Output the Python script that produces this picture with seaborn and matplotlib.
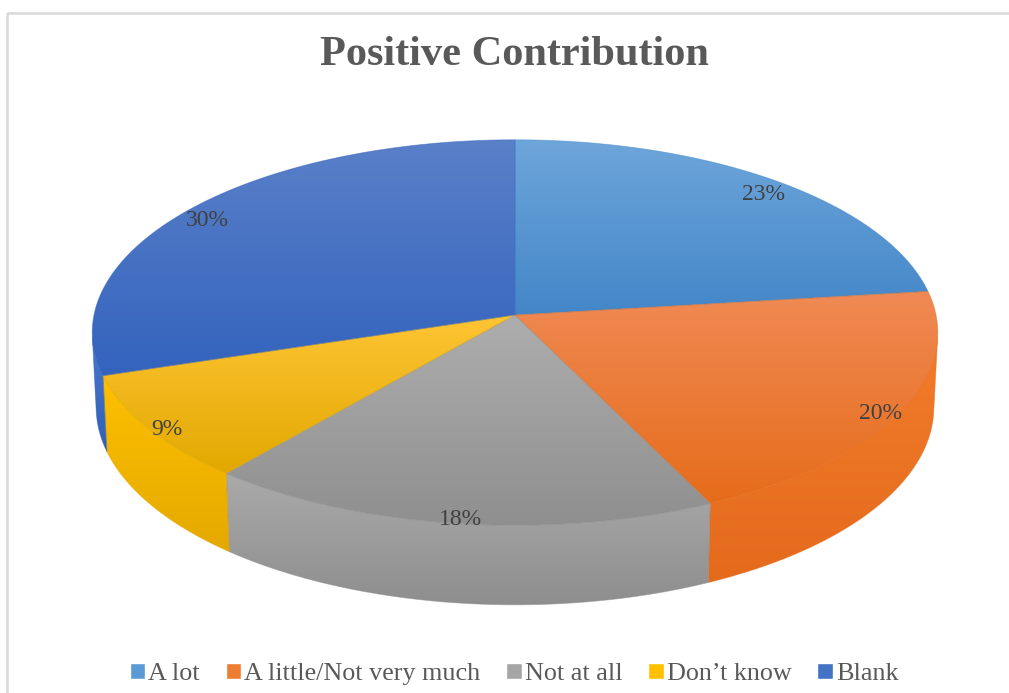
import numpy as np
import matplotlib
matplotlib.use("Agg")
import matplotlib.pyplot as plt
from matplotlib.patches import Polygon, Rectangle
from matplotlib.colors import to_rgb
import seaborn as sns

# ---- data -------------------------------------------------------------
categories = ["A lot", "A little/Not very much", "Not at all", "Don\u2019t know", "Blank"]
percentages = [23, 20, 18, 9, 30]
title = "Positive Contribution"

# light (top) / dark (bottom) shade of each slice
palette = sns.color_palette(["#5B9BD5", "#ED7D31", "#A5A5A5", "#FFC000", "#4472C4"])
top_light = ["#6EA6DA", "#F08A55", "#AEAEAE", "#FFC535", "#5A80C8"]
top_dark = ["#4386C8", "#E66C1A", "#8F8F8F", "#E2A800", "#3363BE"]
side_light = ["#5A9AD6", "#F27C2C", "#AAAAAA", "#FFC000", "#4B78CC"]
side_dark = ["#3F7FC0", "#E46A1C", "#8E8E8E", "#E4A900", "#2F5FB8"]

sns.set_theme(style="white")
plt.rcParams["font.family"] = ["Liberation Serif", "DejaVu Serif"]

W, H = 1009, 693
fig = plt.figure(figsize=(W / 100, H / 100), dpi=100)
ax = fig.add_axes([0, 0, 1, 1])
ax.set_xlim(0, W)
ax.set_ylim(H, 0)
ax.axis("off")

# ---- 3-D projection of a unit-radius disc -----------------------------
cx, cy = 515.0, 315.0           # screen position of pie centre (top face)
elev = np.deg2rad(27.0)
s_e, c_e = np.sin(elev), np.cos(elev)
cam_d = 9.8                      # camera distance (unit radii)
focal = 421.0 * cam_d
thick = 0.20                     # pie thickness


def project(x, y, z):
    x, y, z = np.asarray(x, float), np.asarray(y, float), np.asarray(z, float)
    up = y * s_e + z * c_e
    dist = cam_d + y * c_e - z * s_e
    return cx + x * focal / dist, cy - up * focal / dist


def gradient_fill(poly_xy, c_top, c_bot, zorder):
    poly = Polygon(poly_xy, closed=True, facecolor="none", edgecolor="none")
    ax.add_patch(poly)
    y0, y1 = poly_xy[:, 1].min(), poly_xy[:, 1].max()
    x0, x1 = poly_xy[:, 0].min(), poly_xy[:, 0].max()
    t = np.linspace(0, 1, 256)[:, None]
    ct, cb = np.array(to_rgb(c_top)), np.array(to_rgb(c_bot))
    img = (ct[None, :] * (1 - t) + cb[None, :] * t)[:, None, :]
    img = np.repeat(img, 2, axis=1)
    im = ax.imshow(img, extent=(x0 - 1, x1 + 1, y1 + 1, y0 - 1), aspect="auto",
                   interpolation="bilinear", zorder=zorder)
    im.set_clip_path(poly)
    # thin same-colour outline hides antialiasing seams between slices
    ax.add_patch(Polygon(poly_xy, closed=True, facecolor="none",
                         edgecolor=c_bot, lw=0.6, alpha=0.5, zorder=zorder + 0.01))


fracs = np.array(percentages, float) / sum(percentages)
bounds = np.concatenate([[0], np.cumsum(fracs)]) * 2 * np.pi   # clockwise from 12 o'clock

# outer wall faces the viewer where cos(phi) < -1/(D cos elev)
vis_lo = np.arccos(-1.0 / (cam_d * c_e))
vis_hi = 2 * np.pi - vis_lo

for i in range(len(categories)):
    a0, a1 = bounds[i], bounds[i + 1]
    b0, b1 = max(a0, vis_lo), min(a1, vis_hi)
    if b1 > b0:
        ph = np.linspace(b0, b1, 120)
        xt, yt = project(np.sin(ph), np.cos(ph), 0 * ph)
        xb, yb = project(np.sin(ph), np.cos(ph), 0 * ph - thick)
        wall = np.column_stack([np.concatenate([xt, xb[::-1]]),
                                np.concatenate([yt, yb[::-1]])])
        gradient_fill(wall, side_light[i], side_dark[i], zorder=2)

for i in range(len(categories)):
    a0, a1 = bounds[i], bounds[i + 1]
    ph = np.linspace(a0, a1, 200)
    xs, ys = project(np.concatenate([[0], np.sin(ph)]),
                     np.concatenate([[0], np.cos(ph)]), np.zeros(len(ph) + 1))
    gradient_fill(np.column_stack([xs, ys]), top_light[i], top_dark[i], zorder=3)

# percentage labels on the top face
for i, p in enumerate(percentages):
    mid = 0.5 * (bounds[i] + bounds[i + 1])
    lx, ly = project(0.95 * np.sin(mid), 0.95 * np.cos(mid), 0.0)
    ax.text(lx, ly + 7, f"{p}%", ha="center", va="center", fontsize=17,
            color="#404040", zorder=5)

# chart title
ax.text(514, 55, title, ha="center", va="center", fontsize=30.5,
        fontweight="bold", color="#595959", zorder=5)

# chart-area frame
ax.add_patch(Rectangle((6.5, 13), W + 20, H + 20, facecolor="none",
                       edgecolor="#D9D9D9", lw=1.8, zorder=1))

# legend
handles = [Rectangle((0, 0), 1, 1, facecolor=palette[i]) for i in range(len(categories))]
fig.legend(handles, categories, loc="center", bbox_to_anchor=(514 / W, 1 - 674 / H),
           ncol=5, frameon=False, fontsize=18.8, handlelength=0.6, handleheight=0.6,
           handletextpad=0.12, columnspacing=0.98, labelcolor="#595959")

fig.savefig("out.png", dpi=100)
